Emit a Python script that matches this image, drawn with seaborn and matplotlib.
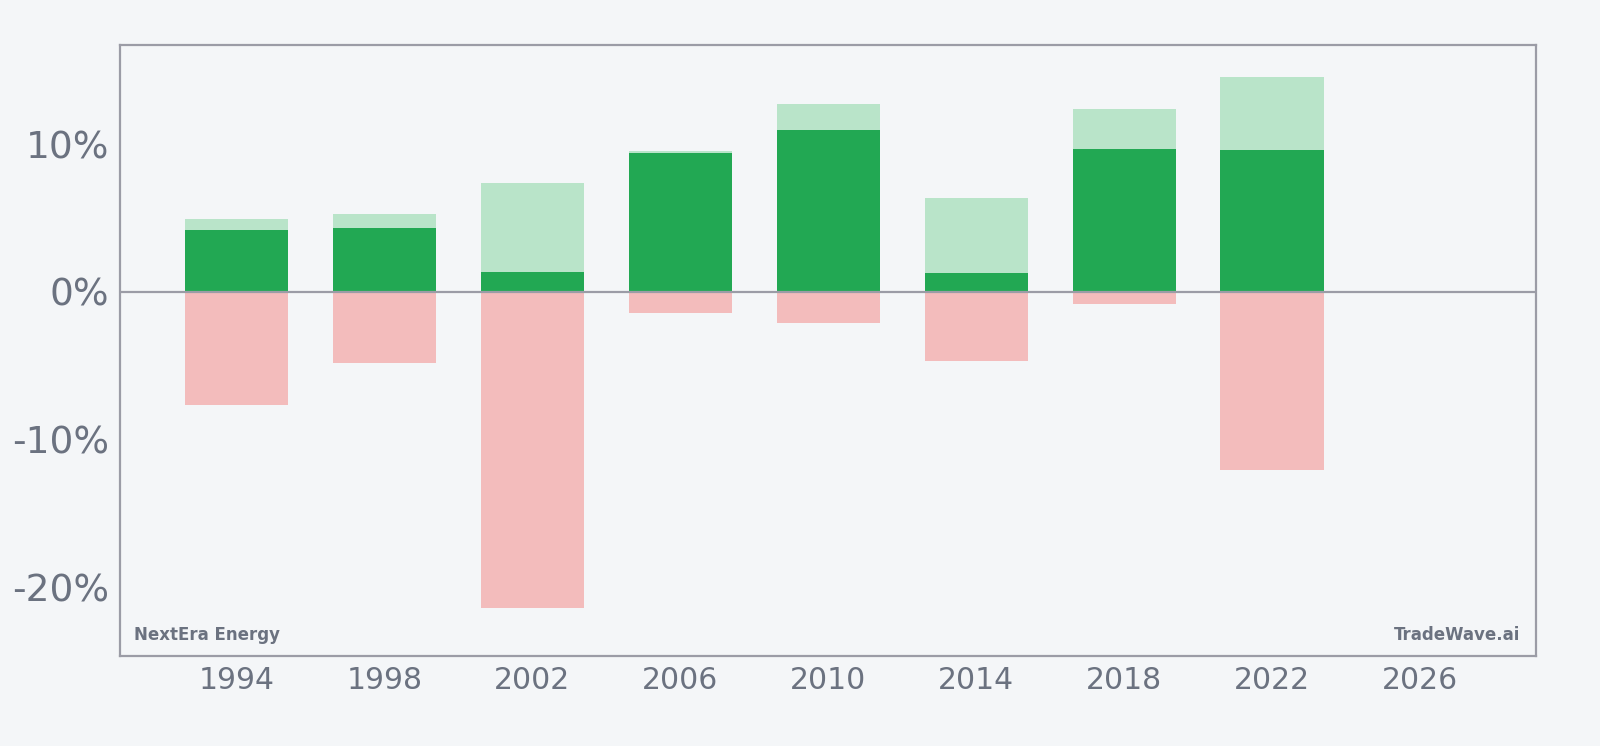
import matplotlib
matplotlib.use("Agg")
import matplotlib.pyplot as plt
import seaborn as sns
import pandas as pd
from matplotlib.ticker import FuncFormatter

years = [1994, 1998, 2002, 2006, 2010, 2014, 2018, 2022]
high_pct = [4.97, 5.26, 7.36, 9.55, 12.71, 6.34, 12.37, 14.54]
close_pct = [4.18, 4.36, 1.33, 9.41, 10.95, 1.29, 9.66, 9.59]
low_pct = [-7.65, -4.83, -21.4, -1.42, -2.13, -4.69, -0.83, -12.08]
x_ticks = [1994, 1998, 2002, 2006, 2010, 2014, 2018, 2022, 2026]
y_ticks = [-20, -10, 0, 10]
company = "NextEra Energy"
brand = "TradeWave.ai"

BG = "#f4f6f8"
TXT = "#6b7280"
SPINE = "#9b9ca6"

sns.set_theme(style="white")
plt.rcParams["font.family"] = ["DejaVu Sans"]

df = pd.DataFrame({"year": years, "high": high_pct, "close": close_pct, "low": low_pct})

fig = plt.figure(figsize=(16, 7.46), dpi=100, facecolor=BG)
ax = fig.add_axes([120 / 1600, 1 - 656 / 746, 1416 / 1600, 611 / 746])
ax.set_facecolor(BG)

common = dict(native_scale=True, width=0.7, saturation=1, ax=ax, linewidth=0, edgecolor="none")
sns.barplot(data=df, x="year", y="high", color="#b9e4c9", zorder=2, **common)
sns.barplot(data=df, x="year", y="close", color="#22a853", zorder=3, **common)
sns.barplot(data=df, x="year", y="low", color="#f3bcbc", zorder=3, **common)

ax.axhline(0, color=SPINE, lw=1.6, zorder=4)

ax.set_xlim(1990.85, 2029.13)
ax.set_ylim(-24.64, 16.72)
ax.set_xticks(x_ticks)
ax.set_xticklabels([str(t) for t in x_ticks])
ax.set_yticks(y_ticks)
ax.yaxis.set_major_formatter(FuncFormatter(lambda v, p: f"{v:.0f}%"))
ax.tick_params(axis="x", labelsize=21.5, colors=TXT, length=2.5, width=1, color=SPINE, pad=5)
ax.tick_params(axis="y", labelsize=27, colors=TXT, length=2.5, width=1, color=SPINE, pad=5)
for lab in ax.get_xticklabels() + ax.get_yticklabels():
    lab.set_color(TXT)
ax.set_xlabel("")
ax.set_ylabel("")
for s in ax.spines.values():
    s.set_visible(True)
    s.set_color(SPINE)
    s.set_linewidth(1.6)

ax.text(0.01, 0.026, company, transform=ax.transAxes, fontsize=12, fontweight="bold",
        color=TXT, ha="left", va="baseline")
ax.text(0.989, 0.026, brand, transform=ax.transAxes, fontsize=12, fontweight="bold",
        color=TXT, ha="right", va="baseline")

fig.savefig("out.png", dpi=100, facecolor=BG)
